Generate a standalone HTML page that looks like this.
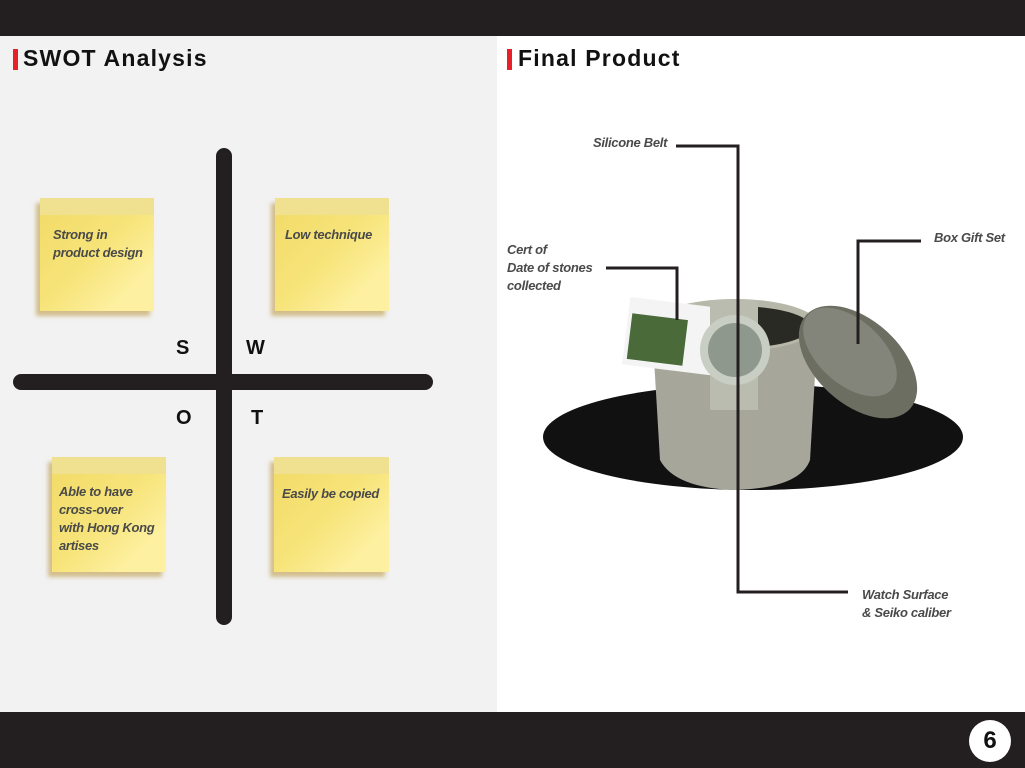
<!DOCTYPE html>
<html><head><meta charset="utf-8"><style>
body{margin:0;width:1025px;height:768px;position:relative;overflow:hidden;background:#fff;font-family:"Liberation Sans",sans-serif}
.abs{position:absolute}
.h{font-weight:bold;font-size:23px;color:#111;letter-spacing:1.2px}
.lab{font-style:italic;font-size:13px;color:#4a4a4a;line-height:18px;font-weight:bold;letter-spacing:-0.3px}
.note{position:absolute;background:linear-gradient(135deg,#f1da66 0%,#f7e47a 50%,#fdf0a0 80%);box-shadow:-4px 5px 4px rgba(180,140,40,.5)}
.note:before{content:"";position:absolute;left:0;top:0;right:0;height:17px;background:#f0e190}
.note span{position:absolute;left:13px;top:28px}
.L{font-weight:bold;font-size:20px;color:#111}
</style></head><body>
<div class="abs" style="left:0;top:0;width:1025px;height:36px;background:#231f20"></div>
<div class="abs" style="left:0;top:36px;width:497px;height:676px;background:#f2f2f2"></div>
<div class="abs" style="left:0;top:712px;width:1025px;height:56px;background:#231f20"></div>
<div class="abs" style="left:969px;top:720px;width:42px;height:42px;border-radius:50%;background:#fff;text-align:center;line-height:42px;font-weight:bold;font-size:24px;color:#111">6</div>
<div class="abs" style="left:13px;top:49px;width:5px;height:21px;background:#e8202a"></div>
<div class="abs h" style="left:23px;top:45px">SWOT Analysis</div>
<div class="abs" style="left:507px;top:49px;width:5px;height:21px;background:#e8202a"></div>
<div class="abs h" style="left:518px;top:45px">Final Product</div>
<div class="abs" style="left:216px;top:148px;width:16px;height:477px;border-radius:8px;background:#231f20"></div>
<div class="abs" style="left:13px;top:374px;width:420px;height:16px;border-radius:8px;background:#231f20"></div>
<div class="abs L" style="left:176px;top:337px">S</div>
<div class="abs L" style="left:246px;top:337px">W</div>
<div class="abs L" style="left:176px;top:407px">O</div>
<div class="abs L" style="left:251px;top:407px">T</div>
<div class="note" style="left:40px;top:198px;width:114px;height:113px"><span class="lab">Strong in<br>product design</span></div>
<div class="note" style="left:275px;top:198px;width:114px;height:113px"><span class="lab" style="left:10px">Low technique</span></div>
<div class="note" style="left:52px;top:457px;width:114px;height:115px"><span class="lab" style="left:7px;top:26px">Able to have<br>cross-over<br>with Hong Kong<br>artises</span></div>
<div class="note" style="left:274px;top:457px;width:115px;height:115px"><span class="lab" style="left:8px;top:28px">Easily be copied</span></div>
<svg class="abs" style="left:0;top:0" width="1025" height="768">
<ellipse cx="753" cy="437" rx="210" ry="53" fill="#111"/>
<path d="M652 325 L660 460 Q675 488 735 490 Q800 488 810 460 L818 325 Z" fill="#a6a79a"/>
<ellipse cx="735" cy="325" rx="83" ry="26" fill="#b8b8aa"/>
<ellipse cx="735" cy="327" rx="76" ry="21" fill="#2a2a24"/>
<rect x="626" y="302" width="90" height="68" fill="#f4f4f4" transform="rotate(7 670 335)"/>
<rect x="630" y="318" width="56" height="46" fill="#4a6a3a" transform="rotate(7 670 335)"/>
<rect x="710" y="300" width="48" height="110" fill="#b9bcae"/>
<circle cx="735" cy="350" r="35" fill="#c9cec4"/>
<circle cx="735" cy="350" r="27" fill="#8f988c"/>
<ellipse cx="858" cy="362" rx="70" ry="42" fill="#6d6e62" transform="rotate(42 858 362)"/>
<ellipse cx="850" cy="352" rx="56" ry="32" fill="#84857a" transform="rotate(42 850 352)"/>
<g stroke="#231f20" stroke-width="3" fill="none">
<polyline points="676,146 738,146 738,592 848,592"/>
<polyline points="606,268 677,268 677,320"/>
<polyline points="921,241 858,241 858,344"/>
</g>
</svg>
<div class="abs lab" style="left:593px;top:134px">Silicone Belt</div>
<div class="abs lab" style="left:507px;top:241px">Cert of<br>Date of stones<br>collected</div>
<div class="abs lab" style="left:934px;top:229px">Box Gift Set</div>
<div class="abs lab" style="left:862px;top:586px">Watch Surface<br>&amp; Seiko caliber</div>
</body></html>
